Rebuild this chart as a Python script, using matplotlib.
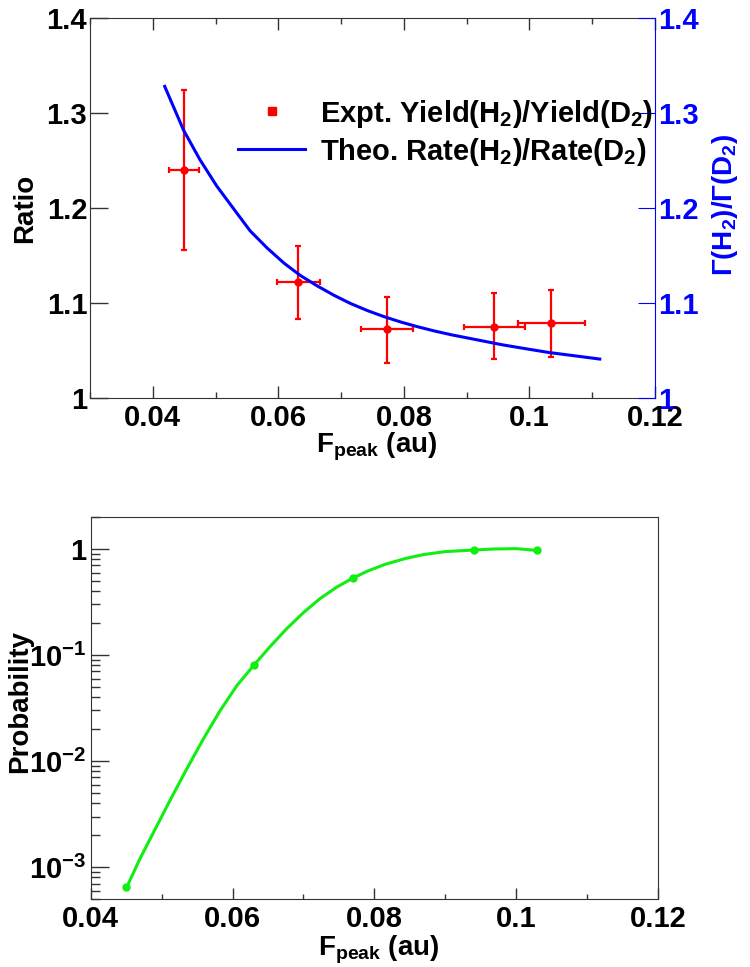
import matplotlib
matplotlib.use('Agg')
import matplotlib.pyplot as plt
from matplotlib.lines import Line2D
from matplotlib.ticker import MultipleLocator, FixedLocator, LogLocator, NullFormatter, FormatStrFormatter

# measured ratio H2/D2 (red points)
ratio_x = [0.0450, 0.0632, 0.0773, 0.0944, 0.1035]
ratio_y = [1.240, 1.1225, 1.0723, 1.0751, 1.0793]
ratio_err_lo = [0.084, 0.039, 0.035, 0.034, 0.036]
ratio_err_hi = [0.084, 0.037, 0.034, 0.035, 0.034]
ratio_xerr = [0.0024, 0.0034, 0.0042, 0.0049, 0.0053]

# theoretical rate ratio (blue curve, right axis)
theo_x = [0.0419, 0.0449, 0.0475, 0.0502, 0.0529, 0.0555, 0.0582, 0.0609, 0.0635,
          0.0662, 0.0689, 0.0715, 0.0742, 0.0769, 0.0795, 0.0822, 0.0849, 0.0876,
          0.0903, 0.0930, 0.0957, 0.0984, 0.1030, 0.1083, 0.1112]
theo_y = [1.328, 1.282, 1.251, 1.223, 1.199, 1.176, 1.158, 1.142, 1.129,
          1.118, 1.108, 1.0995, 1.092, 1.0855, 1.080, 1.075, 1.0705, 1.0665,
          1.063, 1.0595, 1.056, 1.053, 1.048, 1.0435, 1.041]

# probability (bottom panel)
prob_x = [0.045, 0.063, 0.077, 0.094, 0.103]
prob_y = [0.00065, 0.080, 0.53, 0.978, 0.97]
prob_curve_x = [0.0451, 0.0469, 0.0488, 0.0512, 0.0535, 0.0559, 0.0582, 0.0606, 0.0630,
                0.0653, 0.0676, 0.0700, 0.0723, 0.0747, 0.0769, 0.0790, 0.0815, 0.0845,
                0.0870, 0.0900, 0.0940, 0.0970, 0.1000, 0.1029]
prob_curve_y = [0.00065, 0.00118, 0.00209, 0.00427, 0.00832, 0.0162, 0.0295, 0.0513, 0.080,
                0.120, 0.176, 0.251, 0.339, 0.437, 0.528, 0.617, 0.716, 0.817,
                0.887, 0.944, 0.978, 1.0, 1.007, 0.97]
prob_ticks = [1e-3, 1e-2, 1e-1, 1]
prob_ticklabels = ['10$^{-3}$', '10$^{-2}$', '10$^{-1}$', '1']

plt.rcParams['font.family'] = ['Liberation Sans', 'DejaVu Sans']
plt.rcParams['font.weight'] = 'bold'
plt.rcParams['axes.labelweight'] = 'bold'
plt.rcParams['mathtext.fontset'] = 'custom'
plt.rcParams['mathtext.rm'] = 'Liberation Sans:bold'
plt.rcParams['mathtext.it'] = 'Liberation Sans:bold'
plt.rcParams['mathtext.bf'] = 'Liberation Sans:bold'
plt.rcParams['mathtext.default'] = 'rm'

red = '#ff0000'
blue = '#0000ff'
green = '#11ee11'
frame = '#333333'
tick_fs = 21

fig = plt.figure(figsize=(7.5, 9.67), dpi=100)

# ---- top panel
ax = fig.add_axes([0.12, 0.5884, 0.7533, 0.393])
ax.errorbar(ratio_x, ratio_y, xerr=ratio_xerr, yerr=[ratio_err_lo, ratio_err_hi],
            fmt='o', color=red, ms=5, elinewidth=1.6, capsize=2.5, capthick=1.6)
ax.set_xlim(0.03, 0.12)
ax.set_ylim(1.0, 1.4)
ax.xaxis.set_major_locator(MultipleLocator(0.02))
ax.xaxis.set_minor_locator(MultipleLocator(0.01))
ax.xaxis.set_major_formatter(FormatStrFormatter('%g'))
ax.yaxis.set_major_locator(MultipleLocator(0.1))
ax.yaxis.set_major_formatter(FormatStrFormatter('%g'))
ax.tick_params(axis='x', which='both', direction='in', top=True, bottom=True, width=1, color=frame)
ax.tick_params(axis='x', which='major', length=8.6, labelsize=tick_fs, pad=4)
ax.tick_params(axis='x', which='minor', length=4.3)
ax.tick_params(axis='y', which='both', direction='in', left=True, right=False,
               length=13, width=1, labelsize=tick_fs, pad=2, color=frame)
for s in ['left', 'top', 'bottom']:
    ax.spines[s].set_color(frame)
ax.spines['right'].set_visible(False)
ax.set_ylabel('Ratio', fontsize=20)
ax.yaxis.set_label_coords(-0.092, 0.5)
ax.set_xlabel(r'F$_{\mathrm{peak}}$ (au)', fontsize=20)
ax.xaxis.set_label_coords(0.508, -0.086)

ax2 = ax.twinx()
theo_line, = ax2.plot(theo_x, theo_y, color=blue, lw=2.2)
ax2.set_ylim(1.0, 1.4)
ax2.yaxis.set_major_locator(MultipleLocator(0.1))
ax2.yaxis.set_major_formatter(FormatStrFormatter('%g'))
ax2.tick_params(axis='y', direction='in', length=12.5, width=0.8, colors=blue, labelsize=tick_fs, pad=2)
for s in ['left', 'top', 'bottom']:
    ax2.spines[s].set_visible(False)
ax2.spines['right'].set_color(blue)
ax2.spines['right'].set_linewidth(0.8)
ax2.set_ylabel(r'$\Gamma$(H$_2$)/$\Gamma$(D$_2$)', fontsize=20, color=blue)
ax2.yaxis.set_label_coords(1.097, 0.508)

handles = [Line2D([], [], ls='none', marker='s', ms=5.5, color=red), theo_line]
labels = [r'Expt. Yield(H$_2$)/Yield(D$_2$)', r'Theo. Rate(H$_2$)/Rate(D$_2$)']
ax2.legend(handles, labels, loc='upper left', bbox_to_anchor=(0.3173, 0.899),
           bbox_transform=fig.transFigure, frameon=False, fontsize=21,
           handlelength=2.3, handletextpad=0.5, labelspacing=0.2,
           borderpad=0, borderaxespad=0)

# ---- bottom panel
ax3 = fig.add_axes([0.1209, 0.0703, 0.7564, 0.395])
ax3.plot(prob_curve_x, prob_curve_y, color=green, lw=2.2)
ax3.plot(prob_x, prob_y, 'o', color=green, ms=5)
ax3.set_yscale('log')
ax3.set_xlim(0.04, 0.12)
ax3.set_ylim(5e-4, 2)
ax3.xaxis.set_major_locator(MultipleLocator(0.02))
ax3.xaxis.set_minor_locator(MultipleLocator(0.01))
ax3.xaxis.set_major_formatter(FormatStrFormatter('%g'))
ax3.yaxis.set_major_locator(FixedLocator(prob_ticks))
ax3.set_yticklabels(prob_ticklabels)
ax3.yaxis.set_minor_locator(LogLocator(base=10, subs=range(2, 10), numticks=20))
ax3.yaxis.set_minor_formatter(NullFormatter())
ax3.tick_params(axis='x', which='both', direction='in', top=False, bottom=True, width=1, color=frame)
ax3.tick_params(axis='x', which='major', length=8, labelsize=tick_fs, pad=4)
ax3.tick_params(axis='x', which='minor', length=3.3)
ax3.tick_params(axis='y', which='both', direction='in', left=True, right=False, width=1,
                color=frame, labelsize=tick_fs, pad=3)
ax3.tick_params(axis='y', which='major', length=13)
ax3.tick_params(axis='y', which='minor', length=6.5)
for s in ax3.spines.values():
    s.set_color(frame)
ax3.set_ylabel('Probability', fontsize=20)
ax3.yaxis.set_label_coords(-0.102, 0.516)
ax3.set_xlabel(r'F$_{\mathrm{peak}}$ (au)', fontsize=20)
ax3.xaxis.set_label_coords(0.508, -0.09)

fig.savefig('out.png', dpi=100)
